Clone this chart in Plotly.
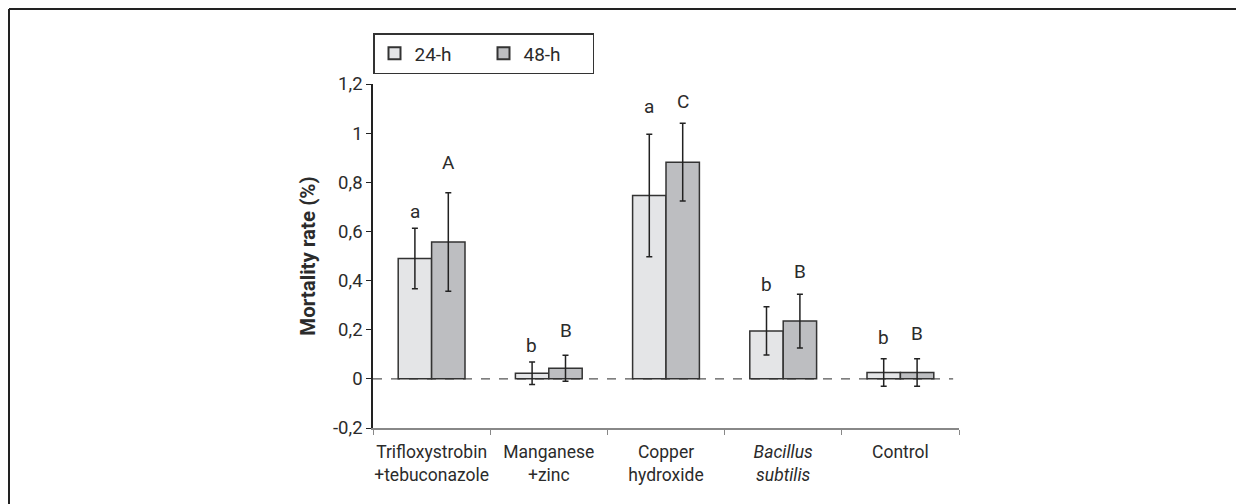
import plotly.graph_objects as go

categories = ["Trifloxystrobin<br>+tebuconazole", "Manganese<br>+zinc", "Copper<br>hydroxide",
              "<i>Bacillus</i><br><i>subtilis</i>", "Control"]
mort_24h = [0.49, 0.023, 0.746, 0.195, 0.026]
err_24h = [0.123, 0.046, 0.249, 0.098, 0.056]
mort_48h = [0.557, 0.043, 0.882, 0.235, 0.026]
err_48h = [0.2, 0.053, 0.158, 0.109, 0.056]
letters_24h = ["a", "b", "a", "b", "b"]
letters_24h_y = [0.68, 0.134, 1.11, 0.385, 0.17]
letters_48h = ["A", "B", "C", "B", "B"]
letters_48h_y = [0.88, 0.195, 1.128, 0.438, 0.183]
y_ticks = [-0.2, 0, 0.2, 0.4, 0.6, 0.8, 1.0, 1.2]
y_tick_labels = ["-0,2", "0", "0,2", "0,4", "0,6", "0,8", "1", "1,2"]

FONT = "Roboto, Liberation Sans Narrow, sans-serif"
TXT = "#2b2b2b"

W, H = 1244, 504
L, R, T, B = 365, 293, 76, 84
PW, PH = W - L - R, H - T - B

fig = go.Figure()
fig.add_trace(go.Bar(
    name="24-h", x=categories, y=mort_24h,
    marker=dict(color="#e4e5e7", line=dict(color="#333333", width=1.5)),
    error_y=dict(type="data", array=err_24h, color="#222222", thickness=1.5, width=3),
))
fig.add_trace(go.Bar(
    name="48-h", x=categories, y=mort_48h,
    marker=dict(color="#bdbec1", line=dict(color="#333333", width=1.5)),
    error_y=dict(type="data", array=err_48h, color="#222222", thickness=1.5, width=3),
))

# dashed zero line
fig.add_shape(type="line", xref="paper", yref="y", x0=0, x1=0.99, y0=0, y1=0,
              line=dict(color="#555555", width=1.2, dash="dash"), layer="below")

# significance letters
for i, cat in enumerate(categories):
    fig.add_annotation(x=cat, y=letters_24h_y[i], text=letters_24h[i], showarrow=False,
                       xshift=-17, font=dict(family=FONT, size=19, color=TXT))
    fig.add_annotation(x=cat, y=letters_48h_y[i], text=letters_48h[i], showarrow=False,
                       xshift=17, font=dict(family=FONT, size=19, color=TXT))

# partial frame (top and left)
fx0 = (1 - L) / PW
fy0 = 1 + (T - 1) / PH
fig.add_shape(type="line", xref="paper", yref="paper", x0=fx0, x1=(W - L) / PW,
              y0=fy0, y1=fy0, line=dict(color="#222222", width=2))
fig.add_shape(type="line", xref="paper", yref="paper", x0=fx0, x1=fx0,
              y0=fy0, y1=-B / PH, line=dict(color="#222222", width=2))

fig.update_layout(
    width=W, height=H,
    margin=dict(l=L, r=R, t=T, b=B, autoexpand=False),
    paper_bgcolor="white", plot_bgcolor="white",
    barmode="group", bargap=0.43, bargroupgap=0,
    font=dict(family=FONT, size=18, color=TXT),
    showlegend=True,
    legend=dict(orientation="h", x=0.0, y=1 + (84 - 33) / PH, xanchor="left", yanchor="top",
                bordercolor="#333333", borderwidth=1.5, bgcolor="white",
                font=dict(family=FONT, size=19, color=TXT), entrywidth=64,
                itemsizing="constant"),
    xaxis=dict(showline=True, linecolor="#888888", linewidth=1.5, automargin=False,
               ticks="outside", tickson="boundaries", ticklen=5, tickcolor="#888888",
               tickangle=0, ticklabelstandoff=7,
               tickfont=dict(family=FONT, size=17.5, color=TXT), showgrid=False),
    yaxis=dict(range=[-0.2, 1.2], tickvals=y_ticks, ticktext=y_tick_labels, automargin=False,
               showline=True, linecolor="#222222", linewidth=1.5,
               ticks="outside", ticklen=5, tickcolor="#222222", showgrid=False, zeroline=False,
               tickfont=dict(family=FONT, size=18.5, color=TXT),
               title=dict(text="<b>Mortality rate (%)</b>", font=dict(family=FONT, size=20.5, color=TXT),
                          standoff=12)),
)

fig.write_html("out.html")
